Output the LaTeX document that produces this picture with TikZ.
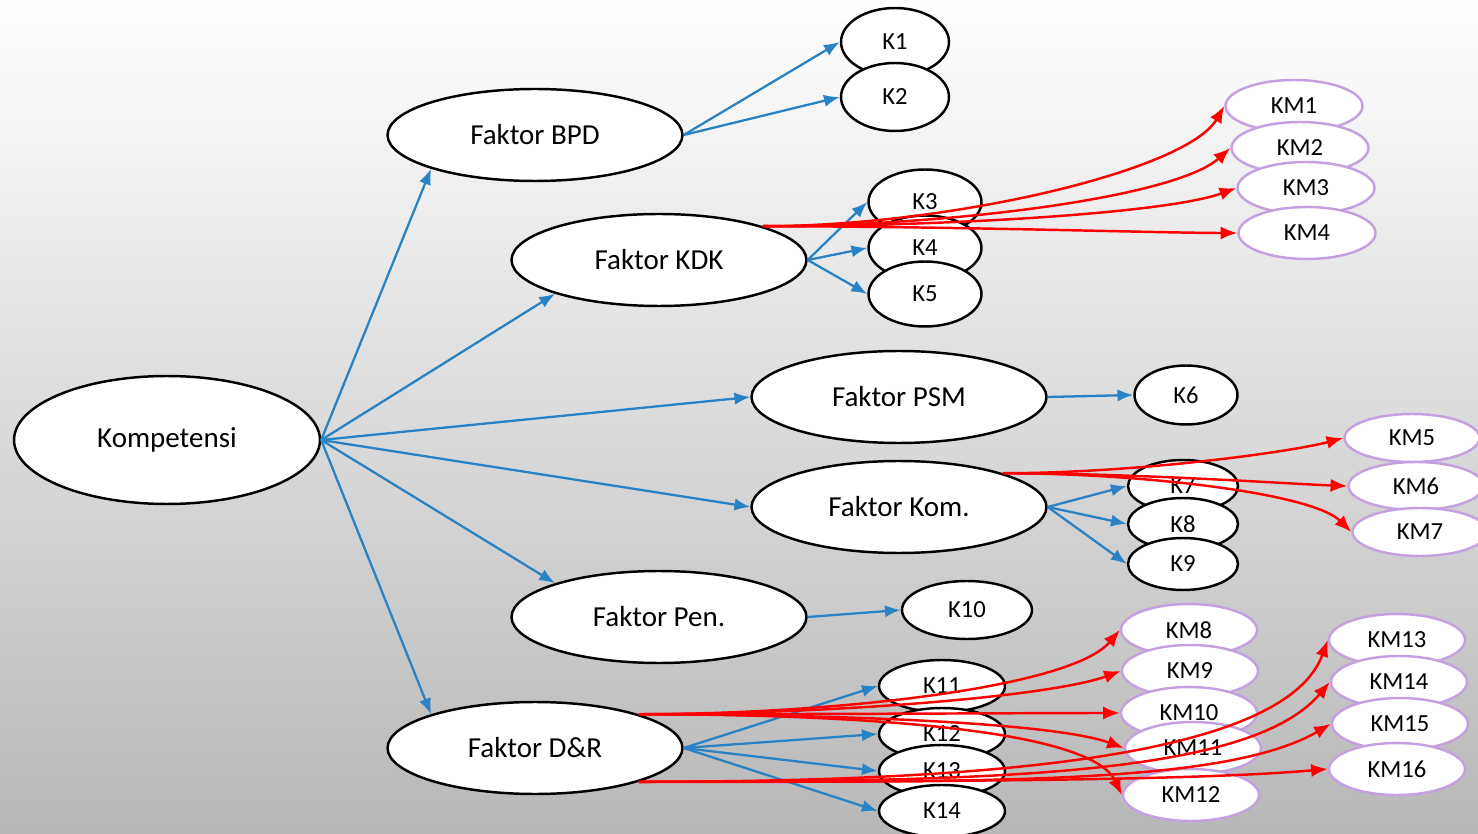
\documentclass[tikz,border=0pt]{standalone}
\usepackage{fontspec}
\setmainfont{Carlito}
\usetikzlibrary{shapes.geometric,arrows.meta}
\definecolor{edgeblue}{RGB}{40,130,195}
\definecolor{kmline}{RGB}{196,160,224}
\tikzset{
  faktor/.style={ellipse, draw, line width=1.4pt, fill=white, inner sep=0pt,
    minimum width=5.9cm, minimum height=1.84cm, font=\fontsize{16.5}{20}\selectfont},
  kbox/.style 2 args={ellipse, draw, line width=1.4pt, fill=white, inner sep=0pt,
    minimum width=#1, minimum height=#2, font=\fontsize{14}{17}\selectfont},
  kmbox/.style 2 args={kbox={#1}{#2}, draw=kmline},
  blueline/.style={draw=edgeblue, line width=1.3pt, -{Latex[length=9pt,width=7pt]}},
  redline/.style={draw=red, line width=1.4pt, -{Latex[length=9.5pt,width=7.5pt]}, in looseness=0.4},
}
\begin{document}
\begin{tikzpicture}[x=0.02cm,y=-0.02cm]
\useasboundingbox (0,0) rectangle (1478,834);
\shade[top color=white, middle color=black!8, bottom color=black!28] (0,0) rectangle (1478,834);

% faktor
\node[faktor, minimum width=6.12cm, minimum height=2.56cm] (komp) at (167,440) {Kompetensi};
\node[faktor] (bpd) at (535,135) {Faktor BPD};
\node[faktor] (kdk) at (659,260) {Faktor KDK};
\node[faktor] (psm) at (899,397) {Faktor PSM};
\node[faktor] (kom) at (899,507) {Faktor Kom.};
\node[faktor] (pen) at (659,617) {Faktor Pen.};
\node[faktor] (dr) at (535,748) {Faktor D\&R};

% K
\foreach \n/\y in {1/42, 2/97}
  \node[kbox={2.16cm}{1.36cm}] (k\n) at (895,\y) {K\n};
\foreach \n/\y in {3/202, 4/248, 5/294}
  \node[kbox={2.26cm}{1.3cm}] (k\n) at (925,\y) {K\n};
\node[kbox={2.06cm}{1.18cm}] (k6) at (1186,395) {K6};
\foreach \n/\y in {7/486, 8/524, 9/564}
  \node[kbox={2.2cm}{1.04cm}] (k\n) at (1183,\y) {K\n};
\node[kbox={2.6cm}{1.16cm}] (k10) at (967,610) {K10};
\foreach \n/\y in {11/686, 12/734, 13/771, 14/811}
  \node[kbox={2.52cm}{1.04cm}] (k\n) at (942,\y) {K\n};

% KM
\foreach \n/\x/\y in {1/1294/106, 2/1300/148, 3/1306/188, 4/1307/233}
  \node[kmbox={2.74cm}{1.04cm}] (km\n) at (\x,\y) {KM\n};
\foreach \n/\x/\y in {5/1412/438, 6/1416/486, 7/1420/532}
  \node[kmbox={2.7cm}{0.96cm}] (km\n) at (\x,\y) {KM\n};
\foreach \n/\x/\y in {8/1189/630, 9/1190/671, 10/1189/713, 11/1193/748, 12/1191/795}
  \node[kmbox={2.72cm}{1.04cm}] (km\n) at (\x,\y) {KM\n};
\foreach \n/\x/\y in {13/1397/640, 14/1399/682, 15/1400/724, 16/1397/769}
  \node[kmbox={2.72cm}{1.04cm}] (km\n) at (\x,\y) {KM\n};

% blue
\foreach \f/\a in {bpd/198, kdk/198, pen/162, dr/162}
  \draw[blueline] (komp.east) -- (\f.\a);
\foreach \f in {psm, kom}
  \draw[blueline] (komp.east) -- (\f.west);
\foreach \k in {1,2} \draw[blueline] (bpd.east) -- (k\k.west);
\foreach \k in {3,4,5} \draw[blueline] (kdk.east) -- (k\k.west);
\draw[blueline] (psm.east) -- (k6.west);
\foreach \k in {7,8,9} \draw[blueline] (kom.east) -- (k\k.west);
\draw[blueline] (pen.east) -- (k10.west);
\foreach \k in {11,...,14} \draw[blueline] (dr.east) -- (k\k.west);

% red
\foreach \k/\a in {1/240, 2/222, 3/200, 4/180}
  \draw[redline] (kdk.18) to[out=0, in=\a] (km\k.west);
\foreach \k/\a in {5/195, 6/178, 7/135}
  \draw[redline] (kom.18) to[out=0, in=\a] (km\k.west);
\foreach \k/\a in {8/230, 9/200, 10/180, 11/160, 12/115}
  \draw[redline] (dr.18) to[out=0, in=\a] (km\k.west);
\foreach \k/\a in {13/250, 14/230, 15/210, 16/185}
  \draw[redline, out looseness=1.3, in looseness=0.45] (dr.-18) to[out=0, in=\a] (km\k.west);
\end{tikzpicture}
\end{document}
